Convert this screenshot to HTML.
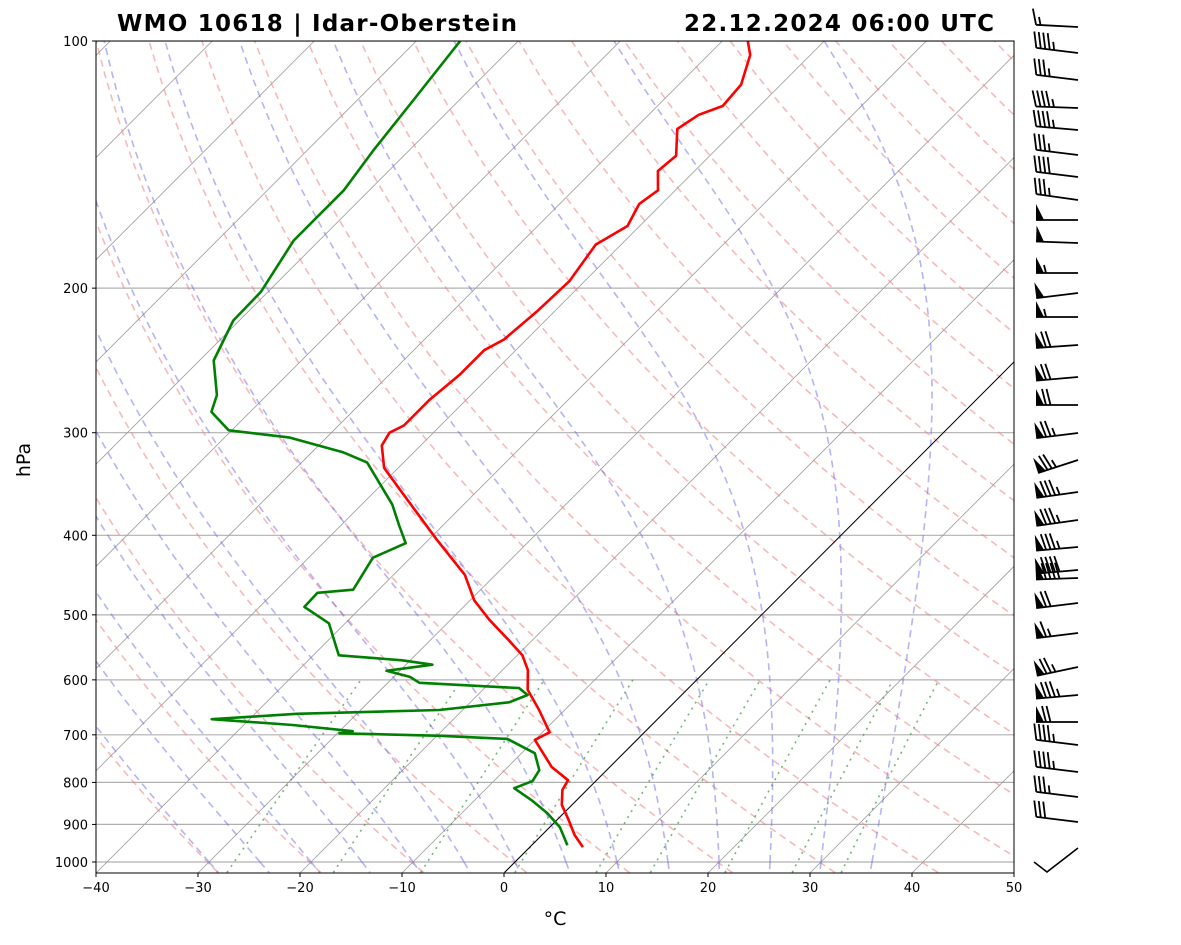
<!DOCTYPE html>
<html><head><meta charset="utf-8"><style>
body{margin:0;background:#fff;width:1181px;height:941px;overflow:hidden;font-family:"DejaVu Sans",sans-serif}
svg text{font-family:"DejaVu Sans","Liberation Sans",sans-serif}
</style></head><body>
<svg id="c" width="1181" height="941"></svg>
<script>
// ---- data ----
const tempP=[959,927,888,852,817,795,766,710,695,653,617,584,560,537,507,480,447,405,352,331,311,300,294,274,255,238,231,213,196,177,168,158,152,144,138,128,123,120,113,104,100];
const tempT=[5.2,3.2,1.1,-1.0,-2.4,-2.8,-5.7,-10.0,-9.3,-12.5,-15.6,-17.5,-19.5,-22.3,-26.2,-29.6,-33.0,-39.2,-47.7,-51.4,-53.8,-54.3,-53.6,-53.6,-53.1,-53.1,-52.2,-51.7,-51.5,-52.5,-51.2,-52.2,-51.7,-53.6,-53.3,-55.8,-55.1,-53.6,-53.9,-55.9,-57.5];
const dewP=[954,907,872,841,813,797,773,737,708,702,697,693,681,670,660,653,639,626,614,605,595,585,575,568,560,512,489,470,466,426,409,389,367,326,317,304,298,283,270,245,219,202,175,152,136,118,100];
const dewT=[3.5,1.0,-1.6,-4.4,-7.3,-6.2,-6.6,-8.7,-12.8,-19.7,-29.8,-28.7,-35.2,-43.7,-35.9,-22.3,-16.2,-15.1,-16.6,-26.9,-28.4,-31.3,-27.4,-30.8,-37.5,-41.6,-45.6,-45.7,-42.5,-43.7,-41.9,-44.3,-47.0,-53.6,-56.9,-63.7,-70.3,-73.8,-74.9,-78.6,-80.6,-80.7,-82.5,-82.5,-83.5,-84.5,-85.7];
const windY=[27,53,80,108,130,155,177,200,220,243,273,293,317,345,377,405,433,460,492,520,547,570,578,603,633,667,695,722,745,772,797,822];
const windKt=[15,45,35,45,45,35,40,35,50,50,55,50,55,70,70,70,75,75,85,85,85,90,90,70,65,75,85,70,45,45,35,30];
const windDir=[273,277,277,272,275,277,277,278,270,272,270,263,270,266,265,270,263,252,262,262,265,265,268,263,263,258,265,270,277,277,277,277];
const xTicks=[-40,-30,-20,-10,0,10,20,30,40,50];
const pTicks=[100,200,300,400,500,600,700,800,900,1000];
// ---- scales ----
const L=96,R=1014,T0=41,B=873,PMAX=1030;
const yP=p=>41+821*Math.log10(p/100);
const xT=(t,p)=>L+(t+40)*10.2+(B-yP(p))*0.998;
const NS='http://www.w3.org/2000/svg';
const svg=document.getElementById('c');
function mk(tag,a,par){const e=document.createElementNS(NS,tag);for(const k in a)e.setAttribute(k,a[k]);(par||svg).appendChild(e);return e;}
const defs=mk('defs',{});const cp=mk('clipPath',{id:'pc'},defs);mk('rect',{x:L,y:T0,width:R-L,height:B-T0},cp);
const g=mk('g',{'clip-path':'url(#pc)'});


function path(pts,st,name){const d=pts.map((q,i)=>(i?'L':'M')+q[0].toFixed(1)+','+q[1].toFixed(1)).join('');const e=mk('path',Object.assign({d:d,fill:'none'},st),g);return e;}
pTicks.forEach(p=>{path([[L,yP(p)],[R,yP(p)]],{stroke:'#b0b0b0','stroke-width':1.2},'isobar-'+p);});
for(let t=-130;t<=50;t+=10){path([[xT(t,PMAX),yP(PMAX)],[xT(t,100),yP(100)]],{stroke:'#999','stroke-width':0.8},'isotherm');}
for(let th=243;th<=473;th+=10){const pts=[];for(let p=PMAX;p>=100;p-=10){const t=th*Math.pow(p/1000,0.2857)-273.15;pts.push([xT(t,p),yP(p)]);}path(pts,{stroke:'#f08080','stroke-width':1.6,'stroke-dasharray':'7,5','opacity':0.55},'dry-adiabat');}
function es(tc){return 6.112*Math.exp(17.67*tc/(tc+243.5));}
function moistStep(T,p){const Tc=T-273.15;const e=es(Tc);const rs=0.622*e/(p-e);const Lv=2.501e6,Rd=287.04,Cp=1005.7;return (Rd*T+Lv*rs)/(Cp+Lv*Lv*rs*0.622/(Rd*T*T))/p;}
for(let t0=-30;t0<=35;t0+=5){
 for(const dir of [1,-1]){let T=t0+273.15,p=1000;const pts=[[xT(t0,1000),yP(1000)]];
  while(dir>0?p>100:p<PMAX){const dp=dir>0?-5:5;T+=moistStep(T,p)*dp;p+=dp;pts.push([xT(T-273.15,p),yP(p)]);}
  path(pts,{stroke:'#6a6aee','stroke-width':1.6,'stroke-dasharray':'7,5','opacity':0.5},'moist-adiabat');}
}
[0.0004,0.001,0.002,0.004,0.007,0.01,0.016,0.024,0.032].forEach(w=>{const pts=[];for(let p=PMAX;p>=600;p-=10){const e=w*p/(0.622+w);const l=Math.log(e/6.112);const td=243.5*l/(17.67-l);pts.push([xT(td,p),yP(p)]);}path(pts,{stroke:'#3a9a3a','stroke-width':1.6,'stroke-dasharray':'2,5','opacity':0.7},'mixing-ratio-line');});
path([[xT(0,PMAX),yP(PMAX)],[xT(0,100),yP(100)]],{stroke:'#000','stroke-width':1},'zero-isotherm');
path(tempP.map((p,i)=>[xT(tempT[i],p),yP(p)]),{stroke:'#f00','stroke-width':2.6,'stroke-linejoin':'round'},'temperature-line');
path(dewP.map((p,i)=>[xT(dewT[i],p),yP(p)]),{stroke:'#008000','stroke-width':2.6,'stroke-linejoin':'round'},'dewpoint-line');
const fr=mk('rect',{x:L,y:T0,width:R-L,height:B-T0,fill:'none',stroke:'#000','stroke-width':1});


xTicks.forEach(t=>{const x=L+(t+40)*10.2;mk('line',{x1:x,x2:x,y1:B,y2:B+4,stroke:'#000'});const tx=mk('text',{x:x,y:B+19,'text-anchor':'middle','font-size':13});tx.textContent=(t<0?'\u2212'+(-t):t);});
pTicks.forEach(p=>{const y=yP(p);mk('line',{x1:L-4,x2:L,y1:y,y2:y,stroke:'#000'});const tx=mk('text',{x:L-8,y:y+5,'text-anchor':'end','font-size':13});tx.textContent=p;});
let t=mk('text',{x:555,y:925,'text-anchor':'middle','font-size':19});t.textContent='°C';
t=mk('text',{x:0,y:0,'text-anchor':'middle','font-size':19,transform:'translate(30,460) rotate(-90)'});t.textContent='hPa';
t=mk('text',{x:117,y:31,'font-size':23,'font-weight':'bold',textLength:400,lengthAdjust:'spacing'});t.textContent='WMO 10618 | Idar-Oberstein';
t=mk('text',{x:684,y:31,'font-size':23,'font-weight':'bold',textLength:310,lengthAdjust:'spacing'});t.textContent='22.12.2024 06:00 UTC';
// wind barbs
const wb=mk('g',{});


windY.forEach((y,i)=>{const g2=mk('g',{},wb);
 const ang=(windDir[i]-270)*Math.PI/180,len=42;
 const x1=1078,ux=-Math.cos(ang),uy=-Math.sin(ang);
 const x0=x1+ux*len,y0=y+uy*len;
 mk('line',{x1:x1,y1:y,x2:x0,y2:y0,stroke:'#000','stroke-width':1.8},g2);
 const nx=-uy, ny=ux;
 const sgn=(ny>0?-1:1);const qx=nx*sgn,qy=ny*sgn;
 let s=Math.round(windKt[i]/5)*5,d=0;
 const at=dd=>[x0-ux*dd,y0-uy*dd];
 while(s>=50){const a=at(d),b=at(d+8);mk('polygon',{points:`${a[0]},${a[1]} ${b[0]},${b[1]} ${a[0]+qx*16},${a[1]+qy*16}`,fill:'#000'},g2);d+=10;s-=50;}
 while(s>=10){const a=at(d);mk('line',{x1:a[0],y1:a[1],x2:a[0]+qx*16+ux*4,y2:a[1]+qy*16+uy*4,stroke:'#000','stroke-width':1.8},g2);d+=4.5;s-=10;}
 if(s>=5){if(d===0)d=4.5;const a=at(d);mk('line',{x1:a[0],y1:a[1],x2:a[0]+qx*8+ux*2,y2:a[1]+qy*8+uy*2,stroke:'#000','stroke-width':1.8},g2);}
});
const cb=mk('polyline',{points:'1034,862 1047,872 1078,848',fill:'none',stroke:'#000','stroke-width':1.6},wb);


</script>
</body></html>
